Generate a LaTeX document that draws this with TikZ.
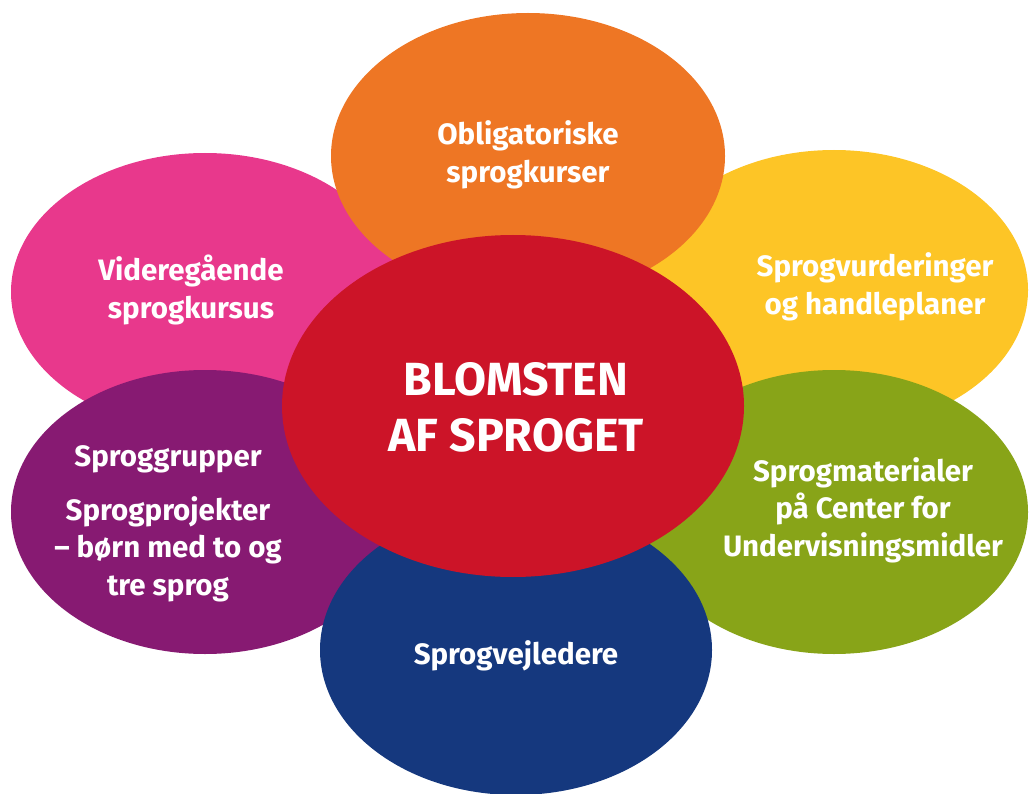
\documentclass[tikz,border=0pt]{standalone}
\usepackage{fontspec}
\setmainfont{Fira Sans}
\definecolor{cOrange}{HTML}{EE7624}
\definecolor{cPink}{HTML}{E8388C}
\definecolor{cYellow}{HTML}{FDC526}
\definecolor{cPurple}{HTML}{871A72}
\definecolor{cGreen}{HTML}{88A418}
\definecolor{cBlue}{HTML}{15387E}
\definecolor{cRed}{HTML}{CC1428}
\begin{document}
\begin{tikzpicture}[x=1pt,y=-1pt,
  petal/.style={fill=#1, draw=none},
  lbl/.style={text=white, align=center, font=\bfseries\fontsize{29.5}{37.5}\selectfont},
  big/.style={text=white, align=center, font=\bfseries\fontsize{46.5}{56}\selectfont}]
\useasboundingbox (0,0) rectangle (1030,794);
\fill[petal=cPink] (205,292) ellipse [x radius=194, y radius=139];
\fill[petal=cYellow] (834,290) ellipse [x radius=194, y radius=140];
\fill[petal=cOrange] (528,156) ellipse [x radius=197, y radius=143];
\fill[petal=cPurple] (205,512) ellipse [x radius=194, y radius=142];
\fill[petal=cGreen] (834,512) ellipse [x radius=194, y radius=142];
\fill[petal=cBlue] (516,650) ellipse [x radius=196, y radius=145];
\fill[petal=cRed] (513,406) ellipse [x radius=231, y radius=171];
\node[lbl] (o) at (528,155) {Obligatoriske\\sprogkurser};
\node[lbl] (p) at (191,290) {Videregående\\sprogkursus};
\node[lbl] (y) at (875,287) {Sprogvurderinger\\og handleplaner};
\node[lbl] (pu1) at (168,459) {Sproggrupper};
\node[lbl] (pu2) at (168,549) {Sprogprojekter\\– børn med to og\\tre sprog};
\node[lbl] (g) at (863,510) {Sprogmaterialer\\på Center for\\Undervisningsmidler};
\node[lbl] (b) at (516,656) {Sprogvejledere};
\node[big] (r) at (516,407) {BLOMSTEN\\AF SPROGET};
\end{tikzpicture}
\end{document}
